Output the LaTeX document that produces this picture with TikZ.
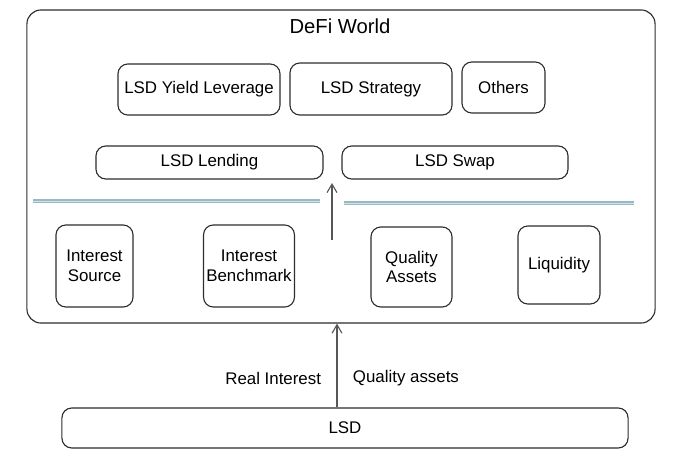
\documentclass[tikz,border=0pt]{standalone}
\usepackage{fontspec}
\setmainfont{Liberation Sans}
\usetikzlibrary{arrows.meta}
\definecolor{sketchInk}{RGB}{45, 45, 45}
\definecolor{sketchTeal}{RGB}{150, 186, 196}

\tikzset{
  sketchbox/.style={draw=sketchInk, line width=0.8pt, rounded corners=7pt, align=center, font=\large, inner sep=2pt},
  sketcharrow/.style={draw=sketchInk!80, line width=0.8pt, -{Straight Barb[length=6pt, width=7pt]}},
  divider/.style={draw=sketchTeal, line width=1.1pt, double=sketchTeal!40, double distance=0.3pt}
}

\begin{document}
\begin{tikzpicture}[x=0.025cm, y=-0.025cm]
        \useasboundingbox (0,0) rectangle (680,460);
        % outer frame
        \node[sketchbox, rounded corners=10pt, minimum width=15.7cm, minimum height=7.825cm] (defi) at (341,166.5) {};
        \node[font=\Large] (title) at (340,26) {DeFi World};
        % top row
        \node[sketchbox, minimum width=4.05cm, minimum height=1.275cm] (yield) at (199,89.5) {LSD Yield Leverage};
        \node[sketchbox, minimum width=4.05cm, minimum height=1.3cm] (strat) at (371,89) {LSD Strategy};
        \node[sketchbox, minimum width=2.075cm, minimum height=1.275cm] (others) at (503.5,87.5) {Others};
        % second row
        \node[sketchbox, minimum width=5.675cm, minimum height=0.825cm] (lend) at (209.5,162.5) {LSD Lending};
        \node[sketchbox, minimum width=5.65cm, minimum height=0.825cm] (swap) at (455,162.5) {LSD Swap};
        % dividers
        \coordinate (divL1) at (33,201);
        \coordinate (divL2) at (320,201);
        \coordinate (divR1) at (344,203);
        \coordinate (divR2) at (634,203);
        \draw[divider] (divL1) -- (divL2);
        \draw[divider] (divR1) -- (divR2);
        % bottom row
        \node[sketchbox, minimum width=1.925cm, minimum height=2.05cm] (source) at (94.5,266) {Interest\\Source};
        \node[sketchbox, minimum width=2.05cm, minimum height=2.05cm] (bench) at (249,266) {Interest\\Benchmark};
        \node[sketchbox, minimum width=2.025cm, minimum height=2cm] (quality) at (411.5,267) {Quality\\Assets};
        \node[sketchbox, minimum width=2.05cm, minimum height=1.95cm] (liquid) at (559,265) {Liquidity};
        \coordinate (upfrom) at (332,240);
        \coordinate (upto) at (332,183);
        \draw[sketcharrow] (upfrom) -- (upto);
        % LSD base
        \node[sketchbox, minimum width=14.15cm, minimum height=1cm] (lsd) at (345,428) {LSD};
        \draw[sketcharrow] (lsd.north -| 337,0) -- (defi.south -| 337,0);
        \node[font=\large, anchor=east] (realint) at (326,378) {Real Interest};
        \node[font=\large, anchor=west] (qassets) at (348,378) {Quality assets};
      \end{tikzpicture}
\end{document}
